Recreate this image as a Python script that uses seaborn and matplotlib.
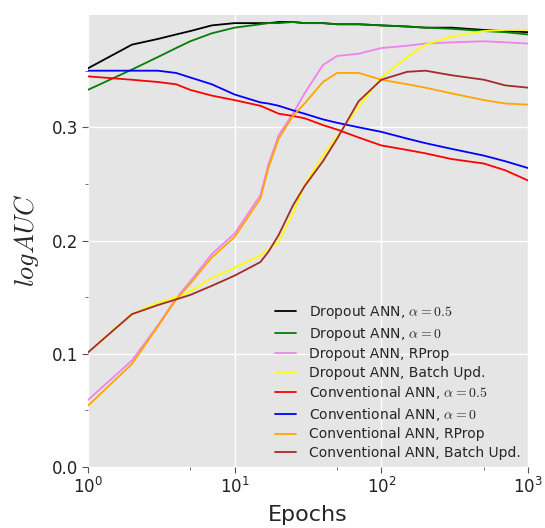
import matplotlib
matplotlib.use("Agg")
import matplotlib.pyplot as plt
import seaborn as sns
import pandas as pd
from matplotlib.ticker import FixedLocator, NullFormatter, AutoMinorLocator

# ---- data ----
epochs = [1, 2, 3, 4, 5, 7, 10, 15, 17, 20, 25, 30, 40, 50, 70, 100, 150, 200, 300, 500, 700, 1000]

dropout_a05 = [0.352, 0.373, 0.378, 0.382, 0.385, 0.390, 0.392, 0.392, 0.392, 0.393, 0.393, 0.392, 0.392, 0.391, 0.391, 0.390, 0.389, 0.388, 0.388, 0.386, 0.385, 0.384]
dropout_a0 = [0.333, 0.351, 0.362, 0.370, 0.376, 0.383, 0.388, 0.391, 0.392, 0.392, 0.393, 0.392, 0.392, 0.391, 0.391, 0.390, 0.389, 0.388, 0.387, 0.385, 0.384, 0.382]
dropout_rprop = [0.059, 0.094, 0.125, 0.149, 0.164, 0.188, 0.206, 0.240, 0.267, 0.293, 0.312, 0.330, 0.355, 0.363, 0.365, 0.370, 0.372, 0.374, 0.375, 0.376, 0.375, 0.374]
dropout_batch = [0.101, 0.135, 0.145, 0.150, 0.155, 0.167, 0.176, 0.187, 0.192, 0.199, 0.224, 0.249, 0.275, 0.292, 0.318, 0.344, 0.362, 0.373, 0.380, 0.385, 0.386, 0.386]
conv_a05 = [0.345, 0.342, 0.340, 0.338, 0.333, 0.328, 0.324, 0.319, 0.316, 0.312, 0.310, 0.308, 0.302, 0.298, 0.291, 0.284, 0.280, 0.277, 0.272, 0.268, 0.262, 0.253]
conv_a0 = [0.350, 0.350, 0.350, 0.348, 0.344, 0.338, 0.329, 0.322, 0.321, 0.319, 0.315, 0.312, 0.307, 0.304, 0.300, 0.296, 0.290, 0.286, 0.281, 0.275, 0.270, 0.264]
conv_rprop = [0.054, 0.091, 0.124, 0.148, 0.162, 0.185, 0.203, 0.237, 0.264, 0.290, 0.310, 0.321, 0.340, 0.348, 0.348, 0.342, 0.338, 0.335, 0.330, 0.324, 0.321, 0.320]
conv_batch = [0.101, 0.135, 0.143, 0.148, 0.152, 0.160, 0.169, 0.181, 0.190, 0.205, 0.231, 0.248, 0.270, 0.290, 0.323, 0.342, 0.349, 0.350, 0.346, 0.342, 0.337, 0.335]

labels = [
    r"Dropout ANN, $\alpha=0.5$",
    r"Dropout ANN, $\alpha=0$",
    "Dropout ANN, RProp",
    "Dropout ANN, Batch Upd.",
    r"Conventional ANN, $\alpha=0.5$",
    r"Conventional ANN, $\alpha=0$",
    "Conventional ANN, RProp",
    "Conventional ANN, Batch Upd.",
]
series = [dropout_a05, dropout_a0, dropout_rprop, dropout_batch,
          conv_a05, conv_a0, conv_rprop, conv_batch]
colors = ["black", "green", "violet", "yellow", "red", "blue", "orange", "brown"]

rows = []
for lab, vals in zip(labels, series):
    for e, v in zip(epochs, vals):
        rows.append({"Epochs": e, "logAUC": v, "method": lab})
df = pd.DataFrame(rows)

# ---- style ----
sns.set_theme(style="darkgrid", rc={
    "axes.facecolor": "#E5E5E5",
    "grid.color": "white",
    "grid.linewidth": 1.0,
    "xtick.bottom": True,
    "ytick.left": True,
    "xtick.direction": "out",
    "ytick.direction": "out",
    "xtick.color": "#555555",
    "ytick.color": "#555555",
    "xtick.labelcolor": "#222222",
    "ytick.labelcolor": "#222222",
})
plt.rcParams["font.family"] = ["DejaVu Sans"]
plt.rcParams["mathtext.fontset"] = "cm"

fig = plt.figure(figsize=(5.45, 5.28), dpi=100)
ax = fig.add_axes([0.161, 0.1155, 0.808, 0.857])

sns.lineplot(data=df, x="Epochs", y="logAUC", hue="method", hue_order=labels,
             palette=dict(zip(labels, colors)), estimator=None, linewidth=1.3,
             ax=ax, legend=True)

ax.set_xscale("log")
ax.set_xlim(1, 1000)
ax.set_ylim(0, 0.3996)
ax.set_yticks([0.0, 0.1, 0.2, 0.3])
ax.set_yticklabels(["0.0", "0.1", "0.2", "0.3"])
ax.yaxis.set_minor_locator(AutoMinorLocator(2))
ax.xaxis.set_minor_locator(FixedLocator([5, 50, 500]))
ax.xaxis.set_minor_formatter(NullFormatter())
ax.tick_params(which="major", length=4, width=0.8, labelsize=12, pad=3)
ax.tick_params(which="minor", length=2, width=0.6, bottom=True, left=True)
ax.grid(True, which="major")
ax.grid(False, which="minor")
for s in ax.spines.values():
    s.set_visible(False)

ax.set_xlabel("Epochs", fontsize=16, labelpad=6)
ax.set_ylabel(r"$logAUC$", fontsize=19, labelpad=8)

handles, labs = ax.get_legend_handles_labels()
ax.legend(handles, labs, loc="lower right", frameon=False, fontsize=10,
          handlelength=1.5, handletextpad=1.0, labelspacing=0.33,
          borderaxespad=0.1)

fig.savefig("out.png", dpi=100)
